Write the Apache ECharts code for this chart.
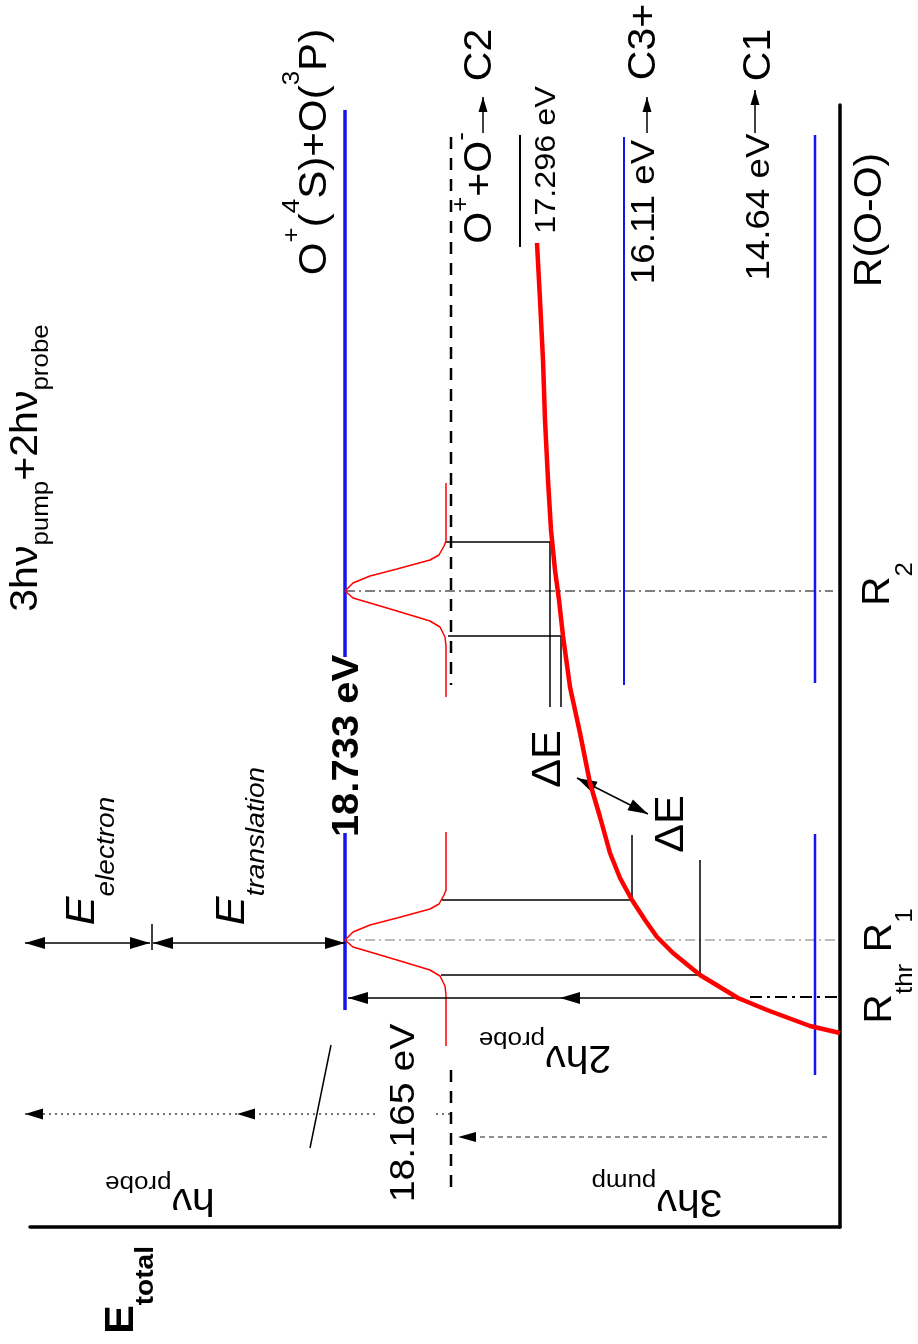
<!DOCTYPE html>
<html><head><meta charset="utf-8">
<script src="https://cdn.jsdelivr.net/npm/echarts@6/dist/echarts.min.js"></script>
<style>html,body{margin:0;padding:0;background:#fff}#c{width:918px;height:1344px}</style>
</head><body><div id="c"></div>
<script>
// Schematic energy diagram (drawn rotated by 90°).
// E: schematic energy position, 0 at the R axis, grows to the left.
// R: schematic O–O distance, 0 at the energy axis, grows upward.

// ---- energy levels ----
const levelNames  = ['C1', 'C3+', 'C2 (17.296)', 'O+ + O- (18.165)', 'O+(4S)+O(3P) (18.733)', '3hv_pump+2hv_probe'];
const levelE      = [25, 216, 320, 389, 495, 817];
const levelLabels = ['14.64 eV', '16.11 eV', '17.296 eV', '18.165 eV', '18.733 eV'];
const c1Segments       = [[1092, 544], [393, 152]];
const c3Segments       = [[1090, 542]];
const c2Segments       = [[1092, 980]];
const ionPairSegments  = [[1090, 542], [157, 40]];
const o4sSegments      = [[1117, 570], [394, 217]];
const totalSegments    = [[597, 90]];

// ---- internuclear distances ----
const rNames  = ['R2', 'R1', 'Rthr'];
const rValues = [636, 287, 230];

// ---- potential energy curve ----
const curveE = [303, 300, 297, 295, 292, 289, 285, 281, 277, 270, 260, 250, 240, 230, 220, 208, 195, 183, 167, 140, 102, 73, 30, 0];
const curveR = [984, 927, 867, 807, 747, 697, 657, 627, 591, 540, 494, 444, 410, 374, 349, 327, 307, 290, 274, 252, 229, 217, 201, 194];

// ---- wave packet profile (offsets from packet centre) ----
const packetDR = [108, 50, 45, 36, 31, 22, 15, 8, 0, -7, -12, -20, -30, -36, -46, -55, -106];
const packetDE = [0, 0, 2, 7, 16, 49, 76, 93, 101, 93, 76, 49, 16, 6, 1, 0, 0];
const packetBaseE = 394;
const packetCentres = [636, 287];

// ---- projections of the packet edges onto the curve ----
const projR2Upper = [[394, 685], [290, 685], [290, 520]];
const projR2Lower = [[392, 591], [279, 591], [279, 520]];
const projR1Upper = [[398, 327], [208, 327], [208, 392]];
const projR1Lower = [[399, 252], [140, 252], [140, 367]];

// ---- arrows [E1, R1, E2, R2, headAtStart, headAtEnd] ----
const solidArrows  = [[815, 284, 690, 284, 1, 1], [687, 284, 495, 284, 1, 1],
                      [102, 229, 280, 229, 0, 1], [280, 229, 492, 229, 0, 1],
                      [263, 449, 192, 413, 1, 1]];
const channelArrows = [[357, 1094, 357, 1130, 0, 1], [193, 1094, 193, 1130, 0, 1], [85, 1094, 85, 1137, 0, 1]];
const dottedArrows = [[390, 113, 407, 113, 0, 0], [465, 113, 603, 113, 0, 1], [603, 113, 815, 113, 0, 1]];
const dashedArrows = [[13, 90, 382, 90, 0, 1]];
const tickMark  = [[688, 303], [688, 277]];
const breakMark = [[509, 182], [530, 79]];

const FONT = '"Liberation Sans", Arial, Helvetica, sans-serif';
const BLUE = '#1414f0', RED = '#ff0000';

function poly(points, lineStyle, z) {
  return {type: 'line', data: points, symbol: 'none', showSymbol: false, silent: true,
    animation: false, clip: false, z: z || 2, lineStyle: lineStyle, emphasis: {disabled: true}};
}
function levelSeries(idx, segs, style) {
  return segs.map(s => poly([[levelE[idx], s[0]], [levelE[idx], s[1]]], style));
}
function headShape(tip, from, L, W) {
  const dx = tip[0] - from[0], dy = tip[1] - from[1], len = Math.hypot(dx, dy);
  const ux = dx / len, uy = dy / len;
  const bx = tip[0] - ux * L, by = tip[1] - uy * L;
  return {type: 'polygon', shape: {points: [[tip[0], tip[1]], [bx - uy * W / 2, by + ux * W / 2], [bx + uy * W / 2, by - ux * W / 2]]},
    style: {fill: '#000'}};
}
function arrowSeries(list, stroke, width, dash, L, W) {
  return {type: 'custom', coordinateSystem: 'cartesian2d', silent: true, animation: false, clip: false, z: 5,
    data: list,
    renderItem: function (params, api) {
      const a = api.coord([api.value(0), api.value(1)]);
      const b = api.coord([api.value(2), api.value(3)]);
      const ch = [{type: 'line', shape: {x1: a[0], y1: a[1], x2: b[0], y2: b[1]},
        style: {stroke: stroke, lineWidth: width, lineDash: dash, fill: null}}];
      if (api.value(4)) ch.push(headShape(a, b, L, W));
      if (api.value(5)) ch.push(headShape(b, a, L, W));
      return {type: 'group', children: ch};
    }};
}

const series = [];
series.push(...levelSeries(0, c1Segments, {color: BLUE, width: 2.5}));
series.push(...levelSeries(1, c3Segments, {color: BLUE, width: 2}));
series.push(...levelSeries(2, c2Segments, {color: '#000', width: 2}));
series.push(...levelSeries(3, ionPairSegments, {color: '#000', width: 2.5, type: [12, 9]}));
series.push(...levelSeries(4, o4sSegments, {color: BLUE, width: 3.5}));
series.push(...levelSeries(5, totalSegments, {color: '#000', width: 2.5, type: [12, 9]}));

// R marker lines
series.push(poly([[levelE[4], rValues[0]], [7, rValues[0]]], {color: '#000', width: 1, type: [10, 4, 2, 4]}, 1));
series.push(poly([[levelE[4], rValues[1]], [5, rValues[1]]], {color: '#777', width: 1, type: [10, 4, 2, 4]}, 1));
series.push(poly([[90, rValues[2]], [-8, rValues[2]]], {color: '#000', width: 2, type: [12, 5, 3, 5]}, 1));

// projections
[projR2Upper, projR2Lower, projR1Upper, projR1Lower].forEach(p => series.push(poly(p, {color: '#000', width: 1.5}, 3)));

// wave packets
packetCentres.forEach(c => {
  series.push(poly(packetDR.map((d, i) => [packetBaseE + packetDE[i], c + d]), {color: RED, width: 1.5}, 4));
});

// potential curve
series.push(poly(curveE.map((e, i) => [e, curveR[i]]), {color: RED, width: 4.5}, 6));

// arrows
series.push(arrowSeries(solidArrows, '#000', 1.5, null, 20, 12));
series.push(arrowSeries(channelArrows, '#000', 1.5, null, 15, 9));
series.push(arrowSeries(dottedArrows, '#444', 1.5, [2, 4], 18, 11));
series.push(arrowSeries(dashedArrows, '#222', 1, [5, 4], 18, 10));
series.push(poly(tickMark, {color: '#000', width: 1.5}, 5));
series.push(poly(breakMark, {color: '#000', width: 1.5}, 5));

const chart = echarts.init(document.getElementById('c'), null, {renderer: 'canvas'});
chart.setOption({
  backgroundColor: '#fff',
  animation: false,
  grid: {left: 30, right: 78, top: 105, bottom: 117, containLabel: false},
  xAxis: {type: 'value', min: 0, max: 810, inverse: true, position: 'bottom',
    axisLine: {show: true, onZero: false, lineStyle: {color: '#000', width: 3.5}},
    axisTick: {show: false}, axisLabel: {show: false}, splitLine: {show: false}},
  yAxis: {type: 'value', min: 0, max: 1122, position: 'right',
    axisLine: {show: true, onZero: false, lineStyle: {color: '#000', width: 3.5}},
    axisTick: {show: false}, axisLabel: {show: false}, splitLine: {show: false}},
  series: series
});

// ---- text labels (anchored in the same schematic coordinates) ----
const labelDefs = [
  {t: [['m', 'O'], ['sp', '+'], ['m', '('], ['sp', '4'], ['m', 'S)+O('], ['sp', '3'], ['m', 'P)']], at: [525, 1075], rot: 90, F: 39, S: 24, sh: 23},
  {t: [['m', '3hν'], ['sb', 'pump'], ['m', '+2hν'], ['sb', 'probe']], at: [813, 759], rot: 90, F: 38, S: 24, sh: 14},
  {t: [['m', 'O'], ['sp', '+'], ['m', '+O'], ['sp', '-']], at: [359, 1039], rot: 90, F: 38, S: 24, sh: 20},
  {t: [['m', 'C2']], at: [359, 1172], rot: 90, F: 38},
  {t: [['m', levelLabels[2]]], at: [293, 1067], rot: 90, F: 30},
  {t: [['m', levelLabels[1]]], at: [195, 1015], rot: 90, F: 34},
  {t: [['m', 'C3+']], at: [195, 1185], rot: 90, F: 38},
  {t: [['m', levelLabels[0]]], at: [80, 1020], rot: 90, F: 34},
  {t: [['m', 'C1']], at: [80, 1172], rot: 90, F: 38},
  {t: [['m', 'R(O-O)']], at: [-31, 1007], rot: 90, F: 38},
  {t: [['m', 'R'], ['sb', '2']], at: [-39, 643], rot: 90, F: 38, S: 24, sh: 26},
  {t: [['m', 'R'], ['sb', 'thr'], ['m', ' R'], ['sb', '1']], at: [-41, 261], rot: 90, F: 38, S: 24, sh: 24},
  {t: [['m', 'E'], ['sb', 'total']], at: [718, -63], rot: 90, F: 40, S: 26, sh: 24, w: 'bold'},
  {t: [['m', 'E'], ['sb', 'electron']], at: [757, 366], rot: 90, F: 40, S: 26, sh: 24, it: true},
  {t: [['m', 'E'], ['sb', 'translation']], at: [607, 381], rot: 90, F: 40, S: 26, sh: 24, it: true},
  {t: [['m', levelLabels[4]]], at: [492, 481], rot: 90, F: 37, w: 'bold'},
  {t: [['m', levelLabels[3]]], at: [436, 114], rot: 90, F: 35, sx: 1.12},
  {t: [['m', 'ΔE']], at: [291, 468], rot: 90, F: 40},
  {t: [['m', 'ΔE']], at: [168, 403], rot: 90, F: 40},
  {t: [['m', '2hν'], ['sb', 'probe']], at: [295, 171], rot: 180, F: 38, S: 24, sh: 17},
  {t: [['m', '3hν'], ['sb', 'pump']], at: [183, 27], rot: 180, F: 38, S: 24, sh: 19},
  {t: [['m', 'hν'], ['sb', 'probe']], at: [680, 28], rot: 180, F: 38, S: 24, sh: 16}
];

function buildLabel(d) {
  const p = chart.convertToPixel({gridIndex: 0}, d.at);
  const S = d.S || 24, sh = d.sh || 0;
  const base = {fontFamily: FONT, fontWeight: d.w || 'normal', fontStyle: d.it ? 'italic' : 'normal', fill: '#000', color: '#000'};
  const rich = {
    m: Object.assign({}, base, {fontSize: d.F, lineHeight: d.F}),
    sp: Object.assign({}, base, {fontSize: S, lineHeight: S, padding: [0, 0, 2 * sh, 0]}),
    sb: Object.assign({}, base, {fontSize: S, lineHeight: S, padding: [2 * sh, 0, 0, 0]})
  };
  const text = d.t.map(x => '{' + x[0] + '|' + x[1] + '}').join('');
  return {type: 'text', x: p[0], y: p[1], rotation: d.rot * Math.PI / 180, scaleX: d.sx || 1.08, silent: true, z: 20,
    style: {text: text, rich: rich, align: 'center', verticalAlign: 'middle', textAlign: 'center', textVerticalAlign: 'middle',
      fontFamily: FONT, fontSize: d.F, fill: '#000'}};
}
chart.setOption({graphic: {elements: labelDefs.map(buildLabel)}});
</script>
</body></html>
